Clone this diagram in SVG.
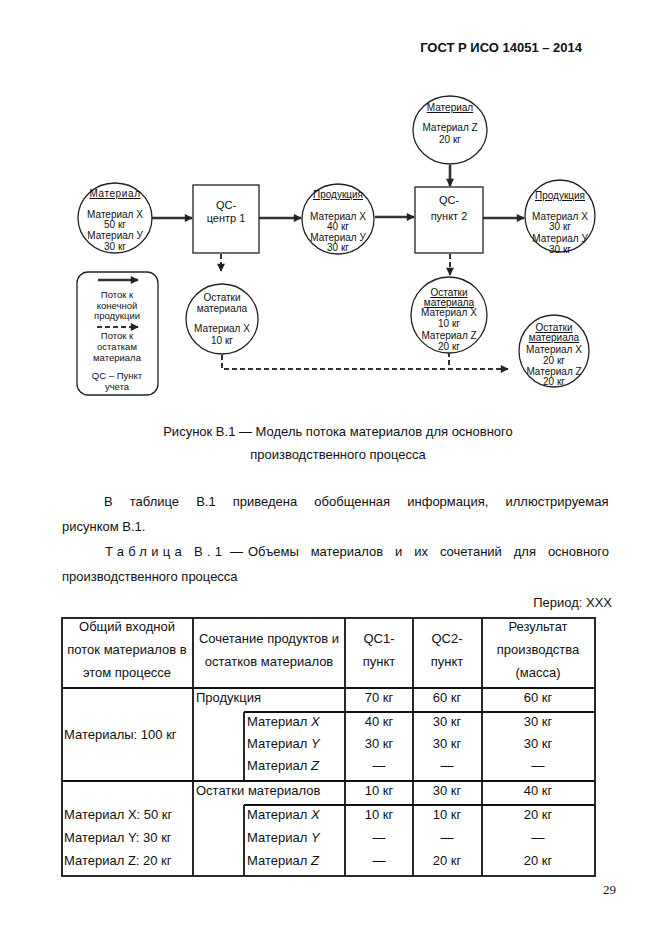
<svg xmlns="http://www.w3.org/2000/svg" width="662" height="935" viewBox="0 0 662 935">
<style>
  .bg{fill:#ffffff}
  .node{fill:#ffffff;stroke:#222;stroke-width:1.3}
  .t{font-family:"Liberation Sans",Arial,sans-serif;font-size:10px;fill:#111;text-anchor:middle}
  .u{text-decoration:underline}
  .bx{font-family:"Liberation Sans",Arial,sans-serif;font-size:11px;fill:#111;text-anchor:middle}
  .lg{font-family:"Liberation Sans",Arial,sans-serif;font-size:9.5px;fill:#111;text-anchor:middle}
  .solid{stroke:#333;stroke-width:2.6;fill:none}
  .dash{stroke:#333;stroke-width:2;fill:none;stroke-dasharray:5 3}
  .body{font-family:"Liberation Sans",Arial,sans-serif;font-size:13px;fill:#111}
  .tb{font-family:"Liberation Sans",Arial,sans-serif;font-size:13px;fill:#111}
  .c{text-anchor:middle}
  .grid{stroke:#111;stroke-width:1.8;fill:none}
</style>
<defs>
  <marker id="ah" viewBox="0 0 10 10" refX="9" refY="5" markerUnits="userSpaceOnUse" markerWidth="9" markerHeight="8" orient="auto">
    <path d="M0,0 L10,5 L0,10 z" fill="#222"/>
  </marker>
</defs>
<rect class="bg" x="0" y="0" width="662" height="935"/>

<text class="body" x="582" y="52" text-anchor="end" font-weight="bold">ГОСТ Р ИСО 14051 – 2014</text>

<g id="connectors">
  <line class="solid" x1="152" y1="218" x2="192" y2="218" marker-end="url(#ah)"/>
  <line class="solid" x1="259" y1="218" x2="301" y2="218" marker-end="url(#ah)"/>
  <line class="solid" x1="375" y1="217" x2="414" y2="217" marker-end="url(#ah)"/>
  <line class="solid" x1="450" y1="165" x2="450" y2="186" marker-end="url(#ah)"/>
  <line class="solid" x1="483" y1="218" x2="524" y2="218" marker-end="url(#ah)"/>
  <line class="dash" x1="221" y1="254" x2="221" y2="271" marker-end="url(#ah)"/>
  <line class="dash" x1="450" y1="254" x2="450" y2="275" marker-end="url(#ah)"/>
  <polyline class="dash" points="222,355 222,369 508,369" marker-end="url(#ah)"/>
  <line class="dash" x1="449" y1="352" x2="449" y2="369"/>
</g>

<g id="material-in">
  <ellipse class="node" cx="115" cy="218" rx="37" ry="35"/>
  <text class="t u" x="115" y="197" letter-spacing="0.6">Материал</text>
  <text class="t" x="115" y="218">Материал X</text>
  <text class="t" x="115" y="228">50 кг</text>
  <text class="t" x="115" y="239">Материал У</text>
  <text class="t" x="115" y="250">30 кг</text>
</g>

<g id="qc1">
  <rect class="node" x="193" y="185" width="66" height="68"/>
  <text class="bx" x="226" y="209">QC-</text>
  <text class="bx" x="226" y="222">центр 1</text>
</g>

<g id="product1">
  <ellipse class="node" cx="338" cy="219" rx="36" ry="35"/>
  <text class="t u" x="338" y="198">Продукция</text>
  <text class="t" x="338" y="220">Материал X</text>
  <text class="t" x="338" y="230">40 кг</text>
  <text class="t" x="338" y="241">Материал У</text>
  <text class="t" x="338" y="251">30 кг</text>
</g>

<g id="material-z">
  <ellipse class="node" cx="450" cy="130" rx="37" ry="34"/>
  <text class="t u" x="450" y="111">Материал</text>
  <text class="t" x="450" y="131">Материал Z</text>
  <text class="t" x="450" y="143">20 кг</text>
</g>

<g id="qc2">
  <rect class="node" x="415" y="187" width="68" height="66"/>
  <text class="bx" x="449" y="204">QC-</text>
  <text class="bx" x="449" y="220">пункт 2</text>
</g>

<g id="product2">
  <ellipse class="node" cx="560" cy="216" rx="35" ry="36"/>
  <text class="t u" x="560" y="199">Продукция</text>
  <text class="t" x="560" y="220">Материал X</text>
  <text class="t" x="560" y="230">30 кг</text>
  <text class="t" x="560" y="242">Материал У</text>
  <text class="t" x="560" y="253">30 кг</text>
</g>

<g id="waste1">
  <ellipse class="node" cx="222" cy="319" rx="36" ry="35"/>
  <text class="t" x="222" y="301">Остатки</text>
  <text class="t" x="222" y="312">материала</text>
  <text class="t" x="222" y="332">Материал X</text>
  <text class="t" x="222" y="344">10 кг</text>
</g>

<g id="waste2">
  <ellipse class="node" cx="449" cy="315" rx="38" ry="38"/>
  <text class="t u" x="449" y="296">Остатки</text>
  <text class="t u" x="449" y="306">материала</text>
  <text class="t" x="449" y="316">Материал X</text>
  <text class="t" x="449" y="327">10 кг</text>
  <text class="t" x="449" y="339">Материал Z</text>
  <text class="t" x="449" y="350">20 кг</text>
</g>

<g id="waste3">
  <ellipse class="node" cx="554" cy="351" rx="35" ry="36"/>
  <text class="t u" x="554" y="331">Остатки</text>
  <text class="t u" x="554" y="341">материала</text>
  <text class="t" x="554" y="353">Материал X</text>
  <text class="t" x="554" y="364">20 кг</text>
  <text class="t" x="554" y="375">Материал Z</text>
  <text class="t" x="554" y="385">20 кг</text>
</g>

<g id="legend">
  <rect class="node" x="77" y="272" width="81" height="123" rx="11"/>
  <line class="solid" x1="98" y1="280" x2="138" y2="280" marker-end="url(#ah)"/>
  <text class="lg" x="117" y="298">Поток к</text>
  <text class="lg" x="117" y="308.5">конечной</text>
  <text class="lg" x="117" y="319">продукции</text>
  <line class="dash" x1="97" y1="327" x2="138" y2="327" marker-end="url(#ah)"/>
  <text class="lg" x="117" y="339">Поток к</text>
  <text class="lg" x="117" y="350">остаткам</text>
  <text class="lg" x="117" y="361">материала</text>
  <text class="lg" x="117" y="379">QC – Пункт</text>
  <text class="lg" x="117" y="390">учета</text>
</g>

<text class="body c" x="338" y="436">Рисунок В.1 — Модель потока материалов для основного</text>
<text class="body c" x="338" y="459">производственного процесса</text>

<text class="body" x="104" y="506" word-spacing="13.5">В таблице В.1 приведена обобщенная информация, иллюстрируемая</text>
<text class="body" x="62" y="531">рисунком В.1.</text>
<text class="body" x="105" y="556" letter-spacing="4.3">Таблица В.1</text>
<text class="body" x="230" y="556">—</text>
<text class="body" x="248" y="556" word-spacing="8.3">Объемы материалов и их сочетаний для основного</text>
<text class="body" x="62" y="581">производственного процесса</text>
<text class="body" x="612" y="607" text-anchor="end">Период: XXX</text>

<g id="table">
  <rect class="grid" x="62" y="618" width="533" height="258"/>
  <line class="grid" x1="193" y1="618" x2="193" y2="876"/>
  <line class="grid" x1="345" y1="618" x2="345" y2="876"/>
  <line class="grid" x1="413" y1="618" x2="413" y2="876"/>
  <line class="grid" x1="482" y1="618" x2="482" y2="876"/>
  <line class="grid" x1="62" y1="688" x2="595" y2="688"/>
  <line class="grid" x1="244" y1="712" x2="595" y2="712"/>
  <line class="grid" x1="62" y1="781" x2="595" y2="781"/>
  <line class="grid" x1="244" y1="805" x2="595" y2="805"/>
  <line class="grid" x1="244" y1="712" x2="244" y2="781"/>
  <line class="grid" x1="244" y1="805" x2="244" y2="876"/>

  <text class="tb c" x="127" y="631">Общий входной</text>
  <text class="tb c" x="127" y="654">поток материалов в</text>
  <text class="tb c" x="127" y="677">этом процессе</text>
  <text class="tb c" x="269" y="643">Сочетание продуктов и</text>
  <text class="tb c" x="269" y="666">остатков материалов</text>
  <text class="tb c" x="379" y="643">QC1-</text>
  <text class="tb c" x="379" y="666">пункт</text>
  <text class="tb c" x="447" y="643">QC2-</text>
  <text class="tb c" x="447" y="666">пункт</text>
  <text class="tb c" x="538" y="631">Результат</text>
  <text class="tb c" x="538" y="654">производства</text>
  <text class="tb c" x="538" y="677">(масса)</text>

  <text class="tb" x="64" y="739">Материалы: 100 кг</text>
  <text class="tb" x="196" y="702">Продукция</text>
  <text class="tb" x="247" y="726">Материал <tspan font-style="italic">X</tspan></text>
  <text class="tb" x="247" y="748">Материал <tspan font-style="italic">Y</tspan></text>
  <text class="tb" x="247" y="770">Материал <tspan font-style="italic">Z</tspan></text>
  <text class="tb c" x="379" y="702">70 кг</text>
  <text class="tb c" x="379" y="726">40 кг</text>
  <text class="tb c" x="379" y="748">30 кг</text>
  <text class="tb c" x="379" y="770">—</text>
  <text class="tb c" x="447" y="702">60 кг</text>
  <text class="tb c" x="447" y="726">30 кг</text>
  <text class="tb c" x="447" y="748">30 кг</text>
  <text class="tb c" x="447" y="770">—</text>
  <text class="tb c" x="538" y="702">60 кг</text>
  <text class="tb c" x="538" y="726">30 кг</text>
  <text class="tb c" x="538" y="748">30 кг</text>
  <text class="tb c" x="538" y="770">—</text>

  <text class="tb" x="64" y="819">Материал X: 50 кг</text>
  <text class="tb" x="64" y="842">Материал Y: 30 кг</text>
  <text class="tb" x="64" y="865">Материал Z: 20 кг</text>
  <text class="tb" x="196" y="795">Остатки материалов</text>
  <text class="tb" x="247" y="819">Материал <tspan font-style="italic">X</tspan></text>
  <text class="tb" x="247" y="842">Материал <tspan font-style="italic">Y</tspan></text>
  <text class="tb" x="247" y="865">Материал <tspan font-style="italic">Z</tspan></text>
  <text class="tb c" x="379" y="795">10 кг</text>
  <text class="tb c" x="379" y="819">10 кг</text>
  <text class="tb c" x="379" y="842">—</text>
  <text class="tb c" x="379" y="865">—</text>
  <text class="tb c" x="447" y="795">30 кг</text>
  <text class="tb c" x="447" y="819">10 кг</text>
  <text class="tb c" x="447" y="842">—</text>
  <text class="tb c" x="447" y="865">20 кг</text>
  <text class="tb c" x="538" y="795">40 кг</text>
  <text class="tb c" x="538" y="819">20 кг</text>
  <text class="tb c" x="538" y="842">—</text>
  <text class="tb c" x="538" y="865">20 кг</text>
</g>

<text x="603" y="894" font-family="'Liberation Serif','Times New Roman',serif" font-size="13" fill="#111">29</text>
</svg>
